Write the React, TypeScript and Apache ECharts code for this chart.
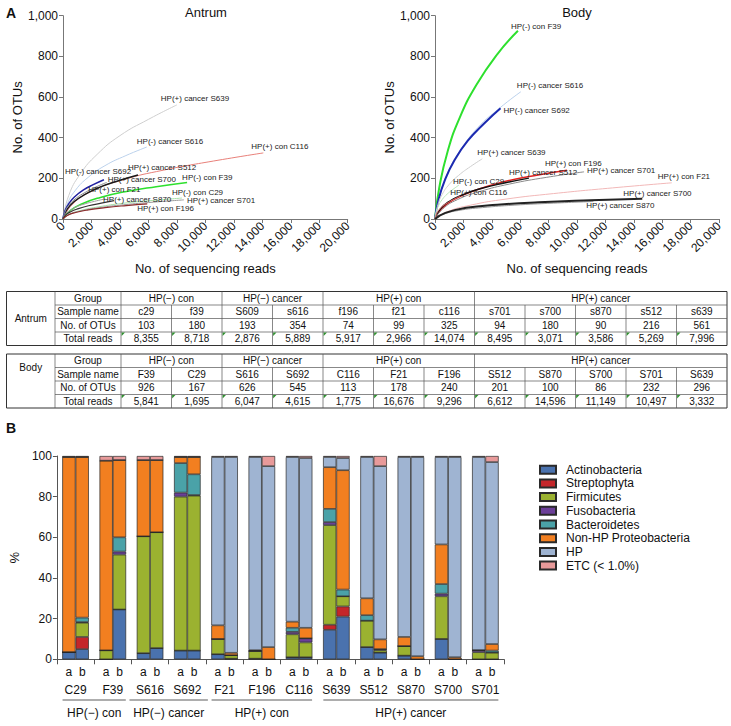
import React, { useEffect, useRef } from 'react';
import * as echarts from 'echarts';

const FONT = "'Liberation Sans', Arial, sans-serif";
const NARROW = "'Liberation Sans Narrow', 'Liberation Sans', Arial, sans-serif";

// ---------------- Panel A: rarefaction curves ----------------
const readTicks = { min: 0, max: 20000, interval: 2000 };
const otuTicks = { min: 0, max: 1000, interval: 200 };

const antrumCurveNames = [
  'HP(+) cancer S639', 'HP(-) cancer S616', 'HP(+) con C116', 'HP(+) cancer S512',
  'HP(-) cancer S692', 'HP(+) cancer S700', 'HP(-) con F39', 'HP(+) con F21',
  'HP(-) con C29', 'HP(+) cancer S870', 'HP(+) cancer S701', 'HP(+) con F196',
];
const antrumCurveReads = [
  [0, 400, 1200, 2400, 4000, 6000, 7996],
  [0, 290, 880, 1770, 2940, 4420, 5889],
  [0, 700, 2110, 4220, 7040, 10560, 14074],
  [0, 260, 790, 1580, 2630, 3950, 5269],
  [0, 140, 430, 860, 1440, 2160, 2876],
  [0, 150, 460, 920, 1540, 2300, 3071],
  [0, 440, 1310, 2620, 4360, 6540, 8718],
  [0, 150, 440, 890, 1480, 2220, 2966],
  [0, 420, 1250, 2500, 4180, 6270, 8355],
  [0, 180, 540, 1080, 1790, 2690, 3586],
  [0, 420, 1270, 2550, 4250, 6370, 8495],
  [0, 300, 890, 1780, 2960, 4440, 5917],
];
const antrumCurveOTUs = [
  [0, 115, 220, 318, 410, 490, 561],
  [0, 72, 142, 205, 262, 312, 354],
  [0, 75, 140, 193, 240, 285, 325],
  [0, 45, 86, 122, 158, 189, 216],
  [0, 40, 78, 112, 143, 170, 193],
  [0, 38, 72, 102, 130, 157, 180],
  [0, 38, 74, 106, 134, 159, 180],
  [0, 21, 40, 58, 73, 87, 99],
  [0, 22, 42, 60, 77, 91, 103],
  [0, 19, 36, 51, 65, 78, 90],
  [0, 22, 40, 56, 70, 83, 94],
  [0, 17, 32, 45, 56, 66, 74],
];
const antrumCurveColors = ['#cfcfcf', '#bcd2ec', '#e8807a', '#1a1a1a', '#2020a0', '#8a8a8a', '#2ee02e', '#a0a0a0', '#a8e0a8', '#333333', '#9a9a9a', '#8b2a2a'];
const antrumCurveWidths = [1, 1, 1, 1.5, 1.5, 1, 1.5, 1, 1, 1.2, 1, 1.2];
const antrumLabelOffsets = [[-16, -6], [-10, -6], [-12, -6], [-10, -8], [-39, -8], [1, -3], [-5, -5], [-17, -9], [-10, -6], [-11, -1], [3, 1], [-10, 5]];

const bodyCurveNames = [
  'HP(-) con F39', 'HP(-) cancer S616', 'HP(-) cancer S692', 'HP(+) cancer S639',
  'HP(+) con F196', 'HP(+) cancer S512', 'HP(+) cancer S701', 'HP(+) con F21',
  'HP(-) con C29', 'HP(+) con C116', 'HP(+) cancer S700', 'HP(+) cancer S870',
];
const bodyCurveReads = [
  [0, 290, 880, 1750, 2920, 4380, 5841],
  [0, 300, 910, 1810, 3020, 4540, 6047],
  [0, 230, 690, 1380, 2310, 3460, 4615],
  [0, 170, 500, 1000, 1670, 2500, 3332],
  [0, 460, 1390, 2790, 4650, 6970, 9296],
  [0, 330, 990, 1980, 3310, 4960, 6612],
  [0, 520, 1570, 3150, 5250, 7870, 10497],
  [0, 830, 2500, 5000, 8340, 12500, 16676],
  [0, 85, 250, 510, 850, 1270, 1695],
  [0, 90, 270, 530, 890, 1330, 1775],
  [0, 560, 1670, 3340, 5570, 8360, 11149],
  [0, 730, 2190, 4380, 7300, 10950, 14596],
];
const bodyCurveOTUs = [
  [0, 150, 330, 500, 660, 810, 926],
  [0, 110, 230, 340, 450, 545, 626],
  [0, 90, 190, 290, 385, 470, 545],
  [0, 62, 120, 170, 215, 258, 296],
  [0, 50, 98, 140, 180, 213, 240],
  [0, 45, 86, 120, 151, 178, 201],
  [0, 48, 95, 135, 172, 205, 232],
  [0, 35, 68, 98, 125, 153, 178],
  [0, 32, 66, 96, 122, 146, 167],
  [0, 22, 44, 63, 80, 97, 113],
  [0, 22, 42, 56, 68, 78, 86],
  [0, 30, 55, 70, 82, 92, 100],
];
const bodyCurveColors = ['#2ee02e', '#bcd2ec', '#1c2ab0', '#cfcfcf', '#e02020', '#111111', '#8a8a8a', '#f2b8b8', '#b8e6b8', '#e06a6a', '#9a9a9a', '#222222'];
const bodyCurveWidths = [2, 1, 2, 1, 1.5, 1.5, 1, 1, 1, 1, 1, 2];
const bodyLabelOffsets = [[-7, -4], [-4, -6], [3, 2], [-5, -6], [-22, -7], [-20, -6], [3, -1], [-14, -6], [-6, -4], [-10, -4], [30, -8], [-56, 7]];

// ---------------- Tables ----------------
const tableGroups = ['HP(−) con', 'HP(−) cancer', 'HP(+) con', 'HP(+) cancer'];
const tableGroupSpans = [2, 2, 3, 5];
const tableRowHeaders = ['Group', 'Sample name', 'No. of OTUs', 'Total reads'];
const antrumSampleNames = ['c29', 'f39', 'S609', 's616', 'f196', 'f21', 'c116', 's701', 's700', 's870', 's512', 's639'];
const antrumOTUCounts = [103, 180, 193, 354, 74, 99, 325, 94, 180, 90, 216, 561];
const antrumTotalReads = [8355, 8718, 2876, 5889, 5917, 2966, 14074, 8495, 3071, 3586, 5269, 7996];
const bodySampleNames = ['F39', 'C29', 'S616', 'S692', 'C116', 'F21', 'F196', 'S512', 'S870', 'S700', 'S701', 'S639'];
const bodyOTUCounts = [926, 167, 626, 545, 113, 178, 240, 201, 100, 86, 232, 296];
const bodyTotalReads = [5841, 1695, 6047, 4615, 1775, 16676, 9296, 6612, 14596, 11149, 10497, 3332];

// ---------------- Panel B: stacked bars ----------------
const barSamples = ['C29', 'F39', 'S616', 'S692', 'F21', 'F196', 'C116', 'S639', 'S512', 'S870', 'S700', 'S701'];
const barGroupNames = ['HP(−) con', 'HP(−) cancer', 'HP(+) con', 'HP(+) cancer'];
const barGroupSpans = [2, 2, 3, 5];
const percentTicks = { min: 0, max: 100, interval: 20 };
const phyla = ['Actinobacteria', 'Streptophyta', 'Firmicutes', 'Fusobacteria', 'Bacteroidetes', 'Non-HP Proteobacteria', 'HP', 'ETC (< 1.0%)'];
const phylumColors = ['#4a72ae', '#c4262a', '#9bb230', '#6b3f98', '#4aa2a8', '#f27f20', '#9fb4d2', '#e89a9a'];

const actinobacteriaA = [3.5, 0, 3, 4.3, 2.5, 0.3, 1, 14.5, 6, 1.8, 10, 0];
const actinobacteriaB = [5, 24.5, 5.5, 4.3, 0.3, 0, 1, 21, 3.3, 0, 0, 0];
const streptophytaA = [0, 0, 0, 0, 0, 0, 0, 2.5, 0, 0, 0, 0];
const streptophytaB = [6, 0, 0, 0, 0, 0, 0, 5, 0, 0, 0, 0];
const firmicutesA = [0, 4.4, 57.5, 75.7, 7.5, 3.8, 11.3, 49, 13, 4.7, 21, 3.5];
const firmicutesB = [7, 27, 57, 76.2, 1.7, 0, 7.3, 5, 1.2, 0, 0, 3.3];
const fusobacteriaA = [0, 0, 0, 2, 0, 0, 1.2, 1.5, 0, 0, 1.3, 1];
const fusobacteriaB = [0.3, 1.5, 0, 0.3, 0, 0, 2, 0, 0.5, 0, 0, 0];
const bacteroidetesA = [0, 0, 0, 14.5, 0, 0, 2, 6.5, 2.7, 0, 4.7, 0];
const bacteroidetesB = [2.2, 7, 0, 10.2, 0, 0, 0, 3.3, 0, 0, 0, 1];
const nonHPProteoA = [96, 93.3, 37.5, 3, 6.7, 0.4, 3, 20.5, 8.3, 4.5, 19.5, 0];
const nonHPProteoB = [79, 38, 35.5, 8.5, 1.2, 6, 5.2, 58.7, 4.8, 1.5, 1, 3.2];
const hpA = [0, 0, 0, 0, 82.8, 95, 81, 5, 69.5, 88.5, 43, 95];
const hpB = [0, 0, 0, 0, 96.3, 89, 83.5, 6, 85.2, 98, 98.5, 89.5];
const etcA = [0.5, 2.3, 2, 0.5, 0.5, 0.5, 0.5, 0.5, 0.5, 0.5, 0.5, 0.5];
const etcB = [0.5, 2, 2, 0.5, 0.5, 5, 1, 1, 5, 0.5, 0.5, 3];

const phylaA = [actinobacteriaA, streptophytaA, firmicutesA, fusobacteriaA, bacteroidetesA, nonHPProteoA, hpA, etcA];
const phylaB = [actinobacteriaB, streptophytaB, firmicutesB, fusobacteriaB, bacteroidetesB, nonHPProteoB, hpB, etcB];

const commas = (v: number) => String(Math.round(v)).replace(/\B(?=(\d{3})+(?!\d))/g, ',');

function curveSeries(names: string[], reads: number[][], otus: number[][], colors: string[], widths: number[], offsets: number[][], idx: number) {
  return names.map((n, i) => ({
    type: 'line',
    name: n,
    xAxisIndex: idx,
    yAxisIndex: idx,
    data: reads[i].map((x, j) => [x, otus[i][j]]),
    smooth: 0.5,
    showSymbol: false,
    symbol: 'none',
    silent: true,
    lineStyle: { color: colors[i], width: widths[i] },
    itemStyle: { color: colors[i] },
    endLabel: {
      show: true,
      formatter: n,
      fontSize: 8,
      fontFamily: FONT,
      color: '#222',
      distance: 0,
      offset: offsets[i],
      align: 'left',
      verticalAlign: 'middle',
    },
  }));
}

function rareAxes(idx: number) {
  return {
    x: {
      type: 'value', gridIndex: idx, ...readTicks,
      name: 'No. of sequencing reads', nameLocation: 'middle', nameGap: 43,
      nameTextStyle: { fontSize: 13, fontFamily: FONT, color: '#111' },
      axisLine: { lineStyle: { color: '#777', width: 1 } },
      axisTick: { show: true, length: 4, lineStyle: { color: '#777' } },
      splitLine: { show: false },
      axisLabel: { rotate: 45, fontSize: 12, fontFamily: FONT, color: '#111', margin: 5, formatter: commas },
    },
    y: {
      type: 'value', gridIndex: idx, ...otuTicks,
      name: 'No. of OTUs', nameLocation: 'middle', nameGap: 34,
      nameTextStyle: { fontSize: 13, fontFamily: FONT, color: '#111' },
      axisLine: { show: true, lineStyle: { color: '#777', width: 1 } },
      axisTick: { show: true, length: 4, lineStyle: { color: '#777' } },
      splitLine: { show: false },
      axisLabel: { fontSize: 12, fontFamily: FONT, color: '#111', margin: 5, formatter: commas },
    },
  };
}

function buildTable(label: string, labelRow: number, top: number, names: string[], otus: number[], reads: number[]) {
  const els: any[] = [];
  const rowH = 13.5;
  const x0 = 6.5, x1 = 55, x2 = 121, cw = 50.5;
  const xr = x2 + 12 * cw;
  const bottom = top + 4 * rowH;
  const inner = { stroke: '#555', lineWidth: 0.7 };
  const txt = (x: number, y: number, s: string) => ({
    type: 'text', x, y, silent: true,
    style: { text: s, fontSize: 10, fontFamily: NARROW, fill: '#111', align: 'center', verticalAlign: 'middle' },
  });
  els.push({ type: 'rect', silent: true, shape: { x: x0, y: top, width: xr - x0, height: bottom - top }, style: { fill: 'none', stroke: '#333', lineWidth: 1 } });
  els.push({ type: 'line', silent: true, shape: { x1: x1, y1: top, x2: x1, y2: bottom }, style: inner });
  els.push({ type: 'line', silent: true, shape: { x1: x2, y1: top, x2: x2, y2: bottom }, style: inner });
  for (let r = 1; r < 4; r++) {
    els.push({ type: 'line', silent: true, shape: { x1: x1, y1: top + r * rowH, x2: xr, y2: top + r * rowH }, style: inner });
  }
  for (let c = 1; c < 12; c++) {
    const x = x2 + c * cw;
    els.push({ type: 'line', silent: true, shape: { x1: x, y1: top + rowH, x2: x, y2: bottom }, style: inner });
  }
  let c0 = 0;
  tableGroups.forEach((g, i) => {
    const span = tableGroupSpans[i];
    const xa = x2 + c0 * cw;
    const xb = x2 + (c0 + span) * cw;
    if (c0 + span < 12) els.push({ type: 'line', silent: true, shape: { x1: xb, y1: top, x2: xb, y2: top + rowH }, style: inner });
    els.push(txt((xa + xb) / 2, top + rowH / 2, g));
    c0 += span;
  });
  tableRowHeaders.forEach((h, r) => els.push(txt((x1 + x2) / 2, top + r * rowH + rowH / 2, h)));
  els.push(txt((x0 + x1) / 2, top + labelRow * rowH, label));
  names.forEach((n, c) => {
    const cx = x2 + c * cw + cw / 2;
    els.push(txt(cx, top + 1.5 * rowH, n));
    els.push(txt(cx, top + 2.5 * rowH, String(otus[c])));
    els.push(txt(cx, top + 3.5 * rowH, commas(reads[c])));
    const tx = x2 + c * cw, ty = top + 3 * rowH;
    els.push({ type: 'polygon', silent: true, shape: { points: [[tx + 0.6, ty + 0.6], [tx + 4, ty + 0.6], [tx + 0.6, ty + 4]] }, style: { fill: '#2f8f2f' } });
  });
  return els;
}

export default function App() {
  const ref = useRef<HTMLDivElement>(null);
  useEffect(() => {
    if (!ref.current) return;
    const chart = echarts.init(ref.current, undefined, { renderer: 'svg' });
    const a0 = rareAxes(0);
    const a1 = rareAxes(1);

    const barSeries: any[] = [];
    phyla.forEach((p, k) => {
      ['a', 'b'].forEach((st) => {
        barSeries.push({
          type: 'bar', name: p, stack: st, xAxisIndex: 2, yAxisIndex: 2,
          data: (st === 'a' ? phylaA : phylaB)[k],
          barWidth: 13.3, barGap: '0%', silent: true,
          itemStyle: { color: phylumColors[k], borderColor: '#2a2a2a', borderWidth: 0.7 },
        });
      });
    });

    const option: any = {
      animation: false,
      textStyle: { fontFamily: FONT },
      grid: [
        { left: 63, top: 15.7, width: 284.7, height: 203.3 },
        { left: 435, top: 15.7, width: 284, height: 203.3 },
        { left: 53.3, top: 456, width: 450.7, height: 203.3 },
      ],
      xAxis: [
        a0.x, a1.x,
        {
          type: 'category', gridIndex: 2, data: barSamples,
          axisLine: { lineStyle: { color: '#555' } },
          axisTick: { show: true, length: 5, lineStyle: { color: '#555' } },
          axisLabel: {
            margin: 4, interval: 0,
            formatter: (v: string) => `{ab|a  b}\n{nm|${v}}`,
            rich: {
              ab: { fontSize: 12, fontFamily: FONT, color: '#111', lineHeight: 18 },
              nm: { fontSize: 12, fontFamily: FONT, color: '#111', lineHeight: 18 },
            },
          },
        },
      ],
      yAxis: [
        a0.y, a1.y,
        {
          type: 'value', gridIndex: 2, ...percentTicks,
          name: '%', nameLocation: 'middle', nameGap: 34, nameRotate: 90,
          nameTextStyle: { fontSize: 13, fontFamily: FONT, color: '#111' },
          axisLine: { show: true, lineStyle: { color: '#555' } },
          axisTick: { show: true, length: 4, lineStyle: { color: '#555' } },
          splitLine: { show: false },
          axisLabel: { fontSize: 12, fontFamily: FONT, color: '#111', margin: 5 },
        },
      ],
      legend: {
        data: phyla, orient: 'vertical', left: 534, top: 458.7,
        itemWidth: 16, itemHeight: 8, itemGap: 1.7, icon: 'rect',
        selectedMode: false,
        textStyle: { fontSize: 12, fontFamily: FONT, color: '#111', lineHeight: 12, padding: [0, 0, 0, 5] },
      },
      series: [
        ...curveSeries(antrumCurveNames, antrumCurveReads, antrumCurveOTUs, antrumCurveColors, antrumCurveWidths, antrumLabelOffsets, 0),
        ...curveSeries(bodyCurveNames, bodyCurveReads, bodyCurveOTUs, bodyCurveColors, bodyCurveWidths, bodyLabelOffsets, 1),
        ...barSeries,
      ],
    };
    chart.setOption(option);

    const graphics: any[] = [];
    const bold = (x: number, y: number, s: string) => ({ type: 'text', x, y, silent: true, style: { text: s, fontSize: 14, fontWeight: 'bold', fontFamily: FONT, fill: '#111', verticalAlign: 'middle' } });
    graphics.push(bold(6, 13, 'A'));
    graphics.push(bold(6, 428, 'B'));
    graphics.push({ type: 'text', x: 206, y: 12, silent: true, style: { text: 'Antrum', fontSize: 13, fontFamily: FONT, fill: '#111', align: 'center', verticalAlign: 'middle' } });
    graphics.push({ type: 'text', x: 577, y: 12, silent: true, style: { text: 'Body', fontSize: 13, fontFamily: FONT, fill: '#111', align: 'center', verticalAlign: 'middle' } });
    graphics.push(...buildTable('Antrum', 2, 291.5, antrumSampleNames, antrumOTUCounts, antrumTotalReads));
    graphics.push(...buildTable('Body', 1, 354, bodySampleNames, bodyOTUCounts, bodyTotalReads));

    const centers = barSamples.map((s) => chart.convertToPixel({ xAxisIndex: 2 }, s) as number);
    let start = 0;
    barGroupNames.forEach((g, i) => {
      const end = start + barGroupSpans[i] - 1;
      const mid = (centers[start] + centers[end]) / 2;
      const halfText = g.length * 3.1 + 2;
      const xa = Math.min(centers[start] - 13, mid - halfText);
      const xb = Math.max(centers[end] + 13, mid + halfText);
      graphics.push({ type: 'line', silent: true, shape: { x1: xa, y1: 700, x2: xb, y2: 700 }, style: { stroke: '#333', lineWidth: 0.8 } });
      graphics.push({ type: 'text', x: mid, y: 713, silent: true, style: { text: g, fontSize: 12, fontFamily: FONT, fill: '#111', align: 'center', verticalAlign: 'middle' } });
      start = end + 1;
    });
    chart.setOption({ graphic: graphics });

    return () => chart.dispose();
  }, []);
  return <div ref={ref} style={{ position: 'absolute', left: 0, top: 0, width: 731, height: 726 }} />;
}
